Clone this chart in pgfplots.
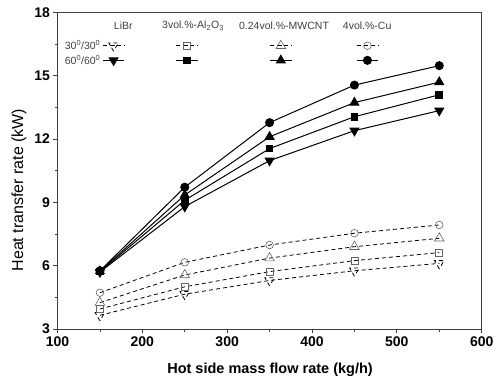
\documentclass[border=0pt]{standalone}
\usepackage{fontspec}
\setmainfont{Liberation Sans}
\usepackage{pgfplots}
\pgfplotsset{compat=1.18}
\begin{document}
\begin{tikzpicture}
\path[use as bounding box] (-57.5pt,-49pt) rectangle (438.5pt,329pt);
\begin{axis}[
 scale only axis, width=424.2pt, height=316.5pt,
 xmin=100, xmax=600, ymin=3, ymax=18,
 xtick={100,200,...,600}, ytick={3,6,...,18},
 minor x tick num=1, minor y tick num=1,
 tick align=outside, tick pos=left,
 axis line style={draw=black!75, line width=1pt},
 major tick length=4pt, minor tick length=2.5pt,
 every tick/.style={black!75, line width=0.8pt},
 ticklabel style={font=\bfseries\fontsize{14}{16}\selectfont},
 /pgf/number format/assume math mode=true,
 xlabel={\bfseries Hot side mass flow rate (kg/h)},
 ylabel={Heat transfer rate (kW)},
 xlabel style={font=\fontsize{14.5}{16}\selectfont, at={(axis description cs:0.501,-0.1295)}, anchor=center},
 ylabel style={font=\fontsize{16}{18}\selectfont, at={(axis description cs:-0.0908,0.439)}, anchor=center},
 legend columns=5,
 legend cell align=left,
 legend style={draw=none, fill=none, at={(rel axis cs:0.005,0.925)}, anchor=north west,
   font=\fontsize{10.5}{12}\selectfont, text=black!75, row sep=0pt},
 legend image code/.code={\draw[mark repeat=2,mark phase=2,#1] plot coordinates {(0cm,0cm) (0.38cm,0cm) (0.76cm,0cm)};},
 open/.style={black, dashed, dash pattern=on 4pt off 3pt, line width=0.8pt,
   mark options={solid, draw=black!60, fill=white, line width=0.6pt}},
 full/.style={black, solid, line width=1pt, mark options={solid, fill=black}},
]
\addlegendimage{empty legend}\addlegendentry{30\textsuperscript{0}/30\textsuperscript{0}}
\addplot[open, mark=triangle, mark size=5.5pt, mark options={rotate=180}] coordinates {(150,3.65) (250,4.65) (350,5.3) (450,5.76) (550,6.11)};
\addlegendentry{\rule{47pt}{0pt}}
\addplot[open, mark=square, mark size=3.5pt] coordinates {(150,3.95) (250,5.0) (350,5.72) (450,6.24) (550,6.62)};
\addlegendentry{\rule{67pt}{0pt}}
\addplot[open, mark=triangle, mark size=5.5pt] coordinates {(150,4.25) (250,5.56) (350,6.36) (450,6.9) (550,7.3)};
\addlegendentry{\rule{60pt}{0pt}}
\addplot[open, mark=o, mark size=3.8pt] coordinates {(150,4.72) (250,6.16) (350,6.98) (450,7.54) (550,7.93)};
\addlegendentry{}
\addlegendimage{empty legend}\addlegendentry{60\textsuperscript{0}/60\textsuperscript{0}}
\addplot[full, mark=triangle*, mark size=5pt, mark options={rotate=180}] coordinates {(150,5.7) (250,8.8) (350,10.98) (450,12.4) (550,13.35)};
\addlegendentry{\rule{47pt}{0pt}}
\addplot[full, mark=square*, mark size=3.3pt] coordinates {(150,5.72) (250,9.1) (350,11.55) (450,13.06) (550,14.1)};
\addlegendentry{\rule{67pt}{0pt}}
\addplot[full, mark=triangle*, mark size=5pt] coordinates {(150,5.74) (250,9.35) (350,12.11) (450,13.73) (550,14.7)};
\addlegendentry{\rule{60pt}{0pt}}
\addplot[full, mark=*, mark size=4pt] coordinates {(150,5.76) (250,9.72) (350,12.78) (450,14.56) (550,15.48)};
\addlegendentry{}
\begin{scope}[every node/.style={font=\fontsize{10.5}{12}\selectfont, text=black!75}]
\node at (axis cs:177.5,17.38) {LiBr};
\node at (axis cs:259.8,17.38) {3vol.\%-Al\textsubscript{2}O\textsubscript{3}};
\node at (axis cs:367,17.38) {0.24vol.\%-MWCNT};
\node at (axis cs:465,17.38) {4vol.\%-Cu};
\end{scope}
\end{axis}
\end{tikzpicture}
\end{document}
